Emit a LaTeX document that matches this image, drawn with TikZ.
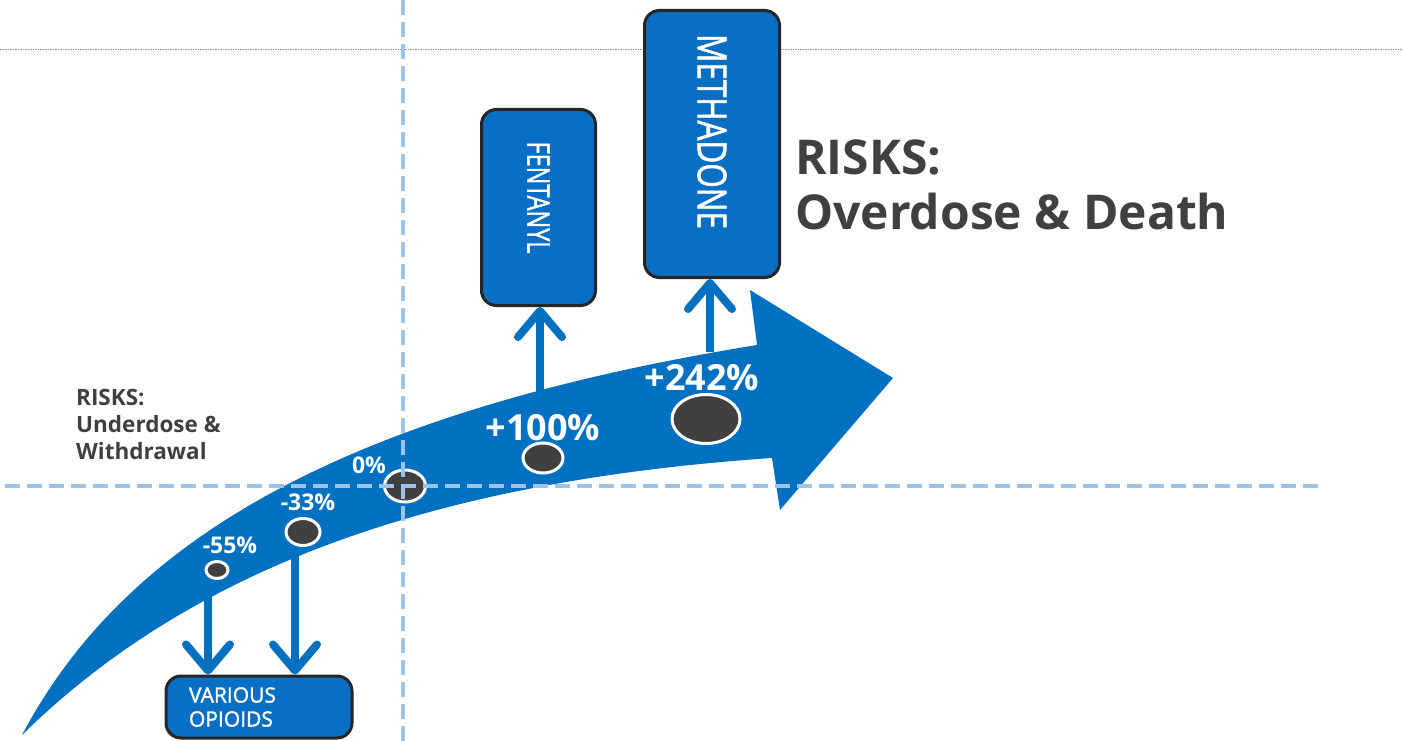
\documentclass[tikz,border=0pt]{standalone}
\usepackage{fontspec}
\setmainfont{Open Sans}
\newfontfamily\boxfont{Open Sans}[FakeBold=1.5]
\usetikzlibrary{arrows.meta,shapes.geometric}

\definecolor{arrowblue}{RGB}{0,112,192}
\definecolor{boxblue}{RGB}{8,111,196}
\definecolor{guideblue}{RGB}{157,195,230}
\definecolor{dotgray}{RGB}{64,64,64}
\definecolor{textgray}{RGB}{64,64,64}

\tikzset{
	drugbox/.style={draw=black!85, line width=3pt, fill=boxblue, rounded corners=15pt, text=white, inner sep=0pt},
	dosedot/.style={ellipse, draw=white, line width=3pt, fill=dotgray, inner sep=0pt},
	pctlabel/.style={text=white, inner sep=0pt},
	guide/.style={guideblue, line width=4pt, dash pattern=on 15pt off 7pt},
	link/.style={arrowblue, line width=8pt, -{Straight Barb[round, length=26pt, width=44pt]}},
	risktext/.style={anchor=west, align=left, text=textgray, inner sep=0pt},
}

\begin{document}
\begin{tikzpicture}[x=1pt,y=-1pt]
		\useasboundingbox (0,0) rectangle (1403,741);
		
		% top rule
		\draw[dotgray!55, line width=1pt, dash pattern=on 1.5pt off 1pt] (0,50) -- (1403,50);
		
		% the big curved arrow
		\fill[arrowblue] (22,735) .. controls (120,550) and (325,415) .. (757,345)
		-- (750,290) -- (893,378) -- (780,510) -- (772,458)
		.. controls (450,480) and (200,560) .. (22,735) -- cycle;
		
		% boxes
		\node[drugbox, anchor=north west, minimum width=186pt, minimum height=62pt, text width=140pt, align=left, inner xsep=23pt,
		font=\boxfont\fontsize{21}{24}\selectfont] (opioids) at (164.5,674.5) {VARIOUS\\OPIOIDS};
		\node[drugbox, rotate=-90, minimum width=196pt, minimum height=114pt, font=\boxfont\fontsize{31}{34}\selectfont] (fentanyl) at (538.5,207.5) {\scalebox{0.755}[1]{FENTANYL}\hspace*{20pt}};
		\node[drugbox, rotate=-90, minimum width=267pt, minimum height=135pt, font=\boxfont\fontsize{40}{44}\selectfont] (methadone) at (712,144) {\scalebox{0.786}[1]{METHADONE}\hspace*{25pt}};
		
		% links from the arrow to the boxes
		\coordinate (opStartA) at (208,590);
		\coordinate (opStartB) at (295,556);
		\coordinate (fentStart) at (540,392);
		\coordinate (methStart) at (710,352);
		\draw[link] (opStartA) -- (opStartA |- opioids.north);
		\draw[link] (opStartB) -- (opStartB |- opioids.north);
		\draw[link] (fentStart) -- (fentStart |- fentanyl.east);
		\draw[link] (methStart) -- (methStart |- methadone.east);
		
		% dose dots
		\node[dosedot, minimum width=22pt, minimum height=17pt] (d55) at (217,570) {};
		\node[dosedot, minimum width=34pt, minimum height=27pt] (d33) at (303,532) {};
		\node[dosedot, minimum width=41pt, minimum height=32pt] (d0) at (405,486) {};
		\node[dosedot, minimum width=40pt, minimum height=30pt] (d100) at (543,458) {};
		\node[dosedot, minimum width=68pt, minimum height=49pt] (d242) at (706,419) {};
		
		\node[pctlabel, font=\bfseries\fontsize{23}{26}\selectfont] (p55) at (230,545) {-55\%};
		\node[pctlabel, font=\bfseries\fontsize{23}{26}\selectfont] (p33) at (308,502) {-33\%};
		\node[pctlabel, font=\bfseries\fontsize{23}{26}\selectfont] (p0) at (369,465) {0\%};
		\node[pctlabel, font=\bfseries\fontsize{36}{40}\selectfont] (p100) at (543,428) {+100\%};
		\node[pctlabel, font=\bfseries\fontsize{36}{40}\selectfont] (p242) at (702,378) {+242\%};
		
		% guides
		\draw[guide] (403,0) -- (403,741);
		\draw[guide] (5,486) -- (1322,486);
		
		% risk notes
		\node[risktext, font=\bfseries\fontsize{22.5}{27}\selectfont] (riskLow) at (76,424) {RISKS:\\Underdose \&\\Withdrawal};
		\node[risktext, font=\bfseries\fontsize{48}{55}\selectfont] (riskHigh) at (795,185) {RISKS:\\Overdose \& Death};
		
	\end{tikzpicture}
\end{document}
